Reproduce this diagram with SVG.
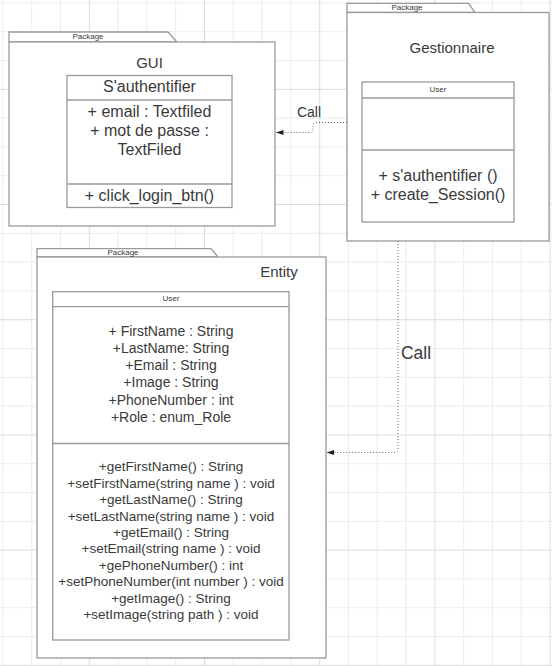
<svg xmlns="http://www.w3.org/2000/svg" width="552" height="666" viewBox="0 0 552 666">
<defs>
<pattern id="grid" patternUnits="userSpaceOnUse" x="-26.4" y="-26.4" width="115.2" height="115.2">
<rect x="0" y="0" width="115.2" height="115.2" fill="#ffffff"/>
<g fill="#ececec">
<rect x="28.8" y="0" width="1" height="115.2"/>
<rect x="57.6" y="0" width="1" height="115.2"/>
<rect x="86.4" y="0" width="1" height="115.2"/>
<rect x="0" y="28.8" width="115.2" height="1"/>
<rect x="0" y="57.6" width="115.2" height="1"/>
<rect x="0" y="86.4" width="115.2" height="1"/>
</g>
<g fill="#dcdcdc">
<rect x="0" y="0" width="1" height="115.2"/>
<rect x="0" y="0" width="115.2" height="1"/>
</g>
</pattern>
<marker id="arr" viewBox="0 0 8 8" refX="7.5" refY="4" markerWidth="8" markerHeight="8" markerUnits="userSpaceOnUse" orient="auto">
<path d="M0,1.5 L7.5,4 L0,6.5 Z" fill="#222"/>
</marker>
<style>
.pkg{fill:#fff;stroke:#9a9a9a;stroke-width:1.3}
.cls{fill:#fff;stroke:#9a9a9a;stroke-width:1.3}
.div{stroke:#9a9a9a;stroke-width:1.3;fill:none}
text{font-family:"Liberation Sans",Arial,Helvetica,sans-serif;fill:#3a3a3a;text-anchor:middle}
.plabel{font-size:8px}
.ulabel{font-size:8px}
.title{font-size:15px}
.t16{font-size:16px}
.t14{font-size:14px}
.t13{font-size:13.5px}
.con{fill:none;stroke:#666;stroke-width:1;stroke-dasharray:1 2}
</style>
</defs>
<rect x="0" y="0" width="552" height="666" fill="url(#grid)"/>

<g id="gui">
<path class="pkg" d="M9,42 V32 H168 L177,42 Z"/>
<rect class="pkg" x="9" y="42" width="266" height="184"/>
<text class="plabel" x="88" y="39">Package</text>
<text class="title" x="149.5" y="68">GUI</text>
<g id="sauthentifier">
<rect class="cls" x="67" y="75.5" width="165" height="132"/>
<line class="div" x1="67" y1="100" x2="232" y2="100"/>
<line class="div" x1="67" y1="184" x2="232" y2="184"/>
<text class="t16" x="149.5" y="91.5">S'authentifier</text>
<text class="t16" x="149.5" y="117">+ email : Textfiled</text>
<text class="t16" x="149.5" y="136">+ mot de passe :</text>
<text class="t16" x="149.5" y="155">TextFiled</text>
<text class="t16" x="149.5" y="200.5">+ click_login_btn()</text>
</g>
</g>

<g id="gestionnaire">
<path class="pkg" d="M347,12.5 V3.3 H468.5 L475,12.5 Z"/>
<rect class="pkg" x="347" y="12.5" width="202" height="228.5"/>
<text class="plabel" x="407" y="10">Package</text>
<text class="title" x="452" y="53.3">Gestionnaire</text>
<g id="user-gest">
<rect class="cls" x="362" y="82" width="152" height="140"/>
<line class="div" x1="362" y1="98" x2="514" y2="98"/>
<line class="div" x1="362" y1="150" x2="514" y2="150"/>
<text class="ulabel" x="438" y="92">User</text>
<text class="t16" x="438" y="180.5">+ s'authentifier ()</text>
<text class="t16" x="438" y="199.5">+ create_Session()</text>
</g>
</g>

<g id="entity">
<path class="pkg" d="M37,257 V248.7 H211 L218,257 Z"/>
<rect class="pkg" x="37" y="257" width="289" height="401"/>
<text class="plabel" x="123" y="255">Package</text>
<text class="title" x="279" y="277">Entity</text>
<g id="user-entity">
<rect class="cls" x="52.7" y="291.7" width="236.3" height="348.3"/>
<line class="div" x1="52.7" y1="306.7" x2="289" y2="306.7"/>
<line class="div" x1="52.7" y1="443.5" x2="289" y2="443.5"/>
<text class="ulabel" x="171" y="301">User</text>
<text class="t14" x="171" y="335.7">+ FirstName : String</text>
<text class="t14" x="171" y="352.9">+LastName: String</text>
<text class="t14" x="171" y="370.1">+Email : String</text>
<text class="t14" x="171" y="387.3">+Image : String</text>
<text class="t14" x="171" y="404.5">+PhoneNumber : int</text>
<text class="t14" x="171" y="421.7">+Role : enum_Role</text>
<text class="t13" x="171" y="471.3">+getFirstName() : String</text>
<text class="t13" x="171" y="487.7">+setFirstName(string name ) : void</text>
<text class="t13" x="171" y="504.1">+getLastName() : String</text>
<text class="t13" x="171" y="520.5">+setLastName(string name ) : void</text>
<text class="t13" x="171" y="536.9">+getEmail() : String</text>
<text class="t13" x="171" y="553.3">+setEmail(string name ) : void</text>
<text class="t13" x="171" y="569.7">+gePhoneNumber() : int</text>
<text class="t13" x="171" y="586.1">+setPhoneNumber(int number ) : void</text>
<text class="t13" x="171" y="602.5">+getImage() : String</text>
<text class="t13" x="171" y="618.9">+setImage(string path ) : void</text>
</g>
</g>

<g id="connectors">
<path class="con" d="M347,122.5 H316 Q313,122.5 313,125.5 V129.5 Q313,132.5 310,132.5 H276" marker-end="url(#arr)"/>
<text style="font-size:14px" x="309" y="116.5">Call</text>
<path class="con" d="M398,241 V449.5 Q398,452.5 395,452.5 H326.5" marker-end="url(#arr)"/>
<text style="font-size:17.5px" x="416" y="358.5">Call</text>
</g>
</svg>
